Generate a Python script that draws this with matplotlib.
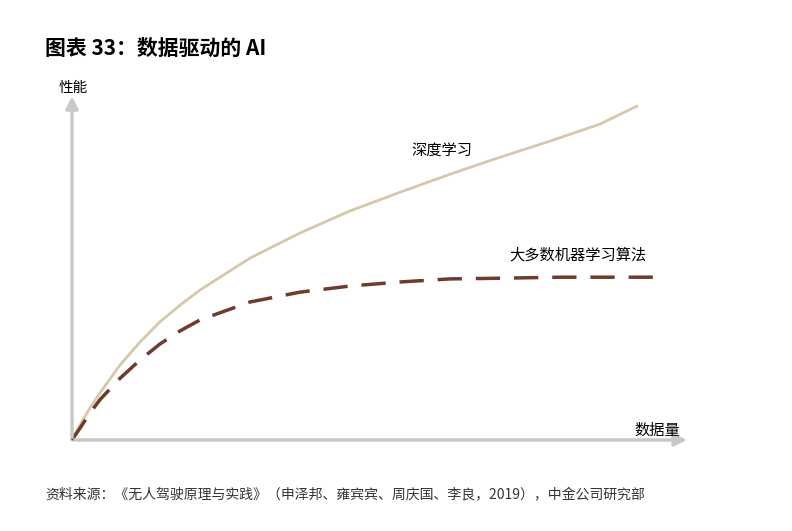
import matplotlib.pyplot as plt

plt.rcParams['font.family'] = ['Noto Sans CJK SC', 'DejaVu Sans']

# 深度学习 curve
deep_x = [0, 1.3, 2.9, 4.5, 7.8, 11.0, 14.2, 17.5, 20.7, 28.8, 36.9, 45.0, 53.1, 61.2, 69.3, 77.3, 85.4, 91.4]
deep_y = [0, 4.4, 9.4, 13.8, 22.1, 28.8, 34.7, 39.7, 44.1, 53.5, 60.9, 67.4, 72.9, 78.2, 83.2, 87.9, 92.9, 98.2]
# 大多数机器学习算法 curve
ml_x = [0, 1.3, 2.9, 4.5, 7.8, 11.0, 14.2, 17.5, 20.7, 28.8, 36.9, 45.0, 53.1, 61.2, 69.3, 79.0, 95.1]
ml_y = [0, 3.5, 7.9, 11.8, 18.2, 23.5, 28.2, 32.1, 35.3, 40.6, 43.5, 45.3, 46.5, 47.4, 47.6, 47.9, 47.9]

fig = plt.figure(figsize=(7.92, 5.31), dpi=100)
ax = fig.add_axes([0.0909, 0.1714, 0.780, 0.640])
ax.set_xlim(0, 100)
ax.set_ylim(0, 100)
ax.axis('off')

gray = '#c8c8c8'
ax.annotate('', xy=(0, 1.02), xytext=(0, 0), xycoords='axes fraction',
            arrowprops=dict(arrowstyle='-|>', color=gray, lw=2.5, mutation_scale=18))
ax.annotate('', xy=(1.0, 0), xytext=(0, 0), xycoords='axes fraction',
            arrowprops=dict(arrowstyle='-|>', color=gray, lw=2.5, mutation_scale=18))

ax.plot(deep_x, deep_y, color='#d6c8aa', lw=2, clip_on=False)
ax.plot(ml_x, ml_y, color='#6e3b2e', lw=2.5, dashes=(7, 4), clip_on=False)

ax.text(59.9, 85.3, '深度学习', fontsize=11, ha='center', va='center')
ax.text(81.9, 54.4, '大多数机器学习算法', fontsize=11, ha='center', va='center')

fig.text(0.057, 0.91, '图表 33：数据驱动的 AI', fontsize=15, fontweight='bold', va='center')
fig.text(0.093, 0.835, '性能', fontsize=10.5, ha='center', va='center')
fig.text(0.83, 0.19, '数据量', fontsize=11, ha='center', va='center')
fig.text(0.057, 0.068, '资料来源：《无人驾驶原理与实践》（申泽邦、雍宾宾、周庆国、李良，2019），中金公司研究部',
         fontsize=10, color='#333333', va='center')

fig.savefig('out.png', dpi=100)
